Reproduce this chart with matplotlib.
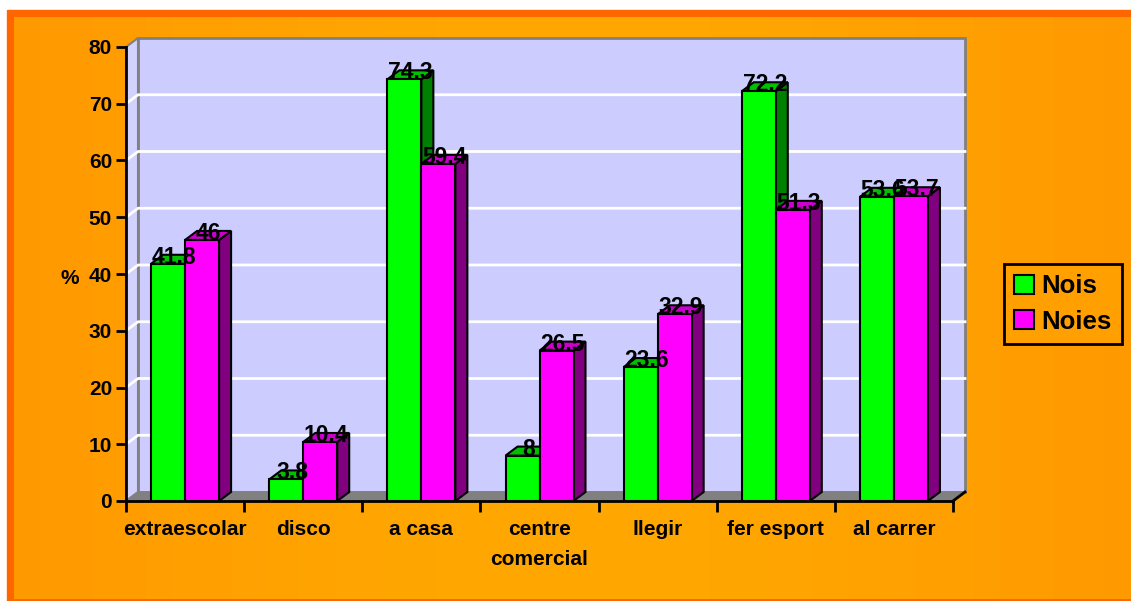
import numpy as np
import matplotlib
matplotlib.use("Agg")
import matplotlib.pyplot as plt
from matplotlib.patches import Polygon, Rectangle, Patch

# dades
categories = ["extraescolar", "disco", "a casa", "centre\ncomercial",
              "llegir", "fer esport", "al carrer"]
nois = [41.8, 3.8, 74.3, 8, 23.6, 72.2, 53.6]
noies = [46, 10.4, 59.4, 26.5, 32.9, 51.3, 53.7]
series_names = ["Nois", "Noies"]
yticks = [0, 10, 20, 30, 40, 50, 60, 70, 80]

# colors: front, top, side
styles = [("#00FF00", "#00C000", "#008000"),
          ("#FF00FF", "#CC00CC", "#800080")]

plt.rcParams["font.family"] = ["Liberation Sans", "DejaVu Sans"]

W, H = 1131, 601
fig = plt.figure(figsize=(W / 100, H / 100), dpi=100, facecolor="white")

# fons taronja amb vora
bg = fig.add_axes([0, 0, 1, 1], zorder=-10)
bg.add_patch(Rectangle((7, 10), W, H, color="#FF6600", zorder=1))
t = np.linspace(0, 1, 256)
g = 0.60 + 0.055 * np.sin(np.pi * t)
grad = np.stack([np.ones_like(t), g, np.zeros_like(t)], axis=-1)[None, :, :]
bg.imshow(grad, extent=[14, W + 2, 599, 17], aspect="auto", interpolation="bilinear",
          zorder=2)
bg.set_xlim(0, W); bg.set_ylim(H, 0); bg.axis("off")

# eixos principals (pla frontal)
x0p, x1p, y0p, y1p = 126, 953, 501, 47
ax = fig.add_axes([x0p / W, 1 - y0p / H, (x1p - x0p) / W, (y0p - y1p) / H])
n = len(categories)
ymax = yticks[-1]
ax.set_xlim(0, n); ax.set_ylim(0, ymax)
ax.patch.set_visible(False)
for s in ["top", "right"]:
    ax.spines[s].set_visible(False)
for s in ["left", "bottom"]:
    ax.spines[s].set_linewidth(2)
    ax.spines[s].set_zorder(4)

# profunditat 3D
dx = 12 * n / (x1p - x0p)
dy = 9 * ymax / (y0p - y1p)

ax.add_patch(Rectangle((dx, dy), n, ymax, fc="#CCCCFF", ec="#808080", lw=2,
                       clip_on=False, zorder=0.5))
ax.add_patch(Polygon([(0, 0), (dx, dy), (dx, ymax + dy), (0, ymax)], closed=True,
                     fc="#D2D2FF", ec="#808080", lw=1.5, clip_on=False, zorder=0.5))
for yv in yticks[1:-1]:
    ax.plot([0, dx, n + dx], [yv, yv + dy, yv + dy], color="white", lw=2,
            clip_on=False, zorder=0.6)
ax.add_patch(Polygon([(0, 0), (n, 0), (n + dx, dy), (dx, dy)], closed=True,
                     fc="#808080", ec="#808080", lw=1, clip_on=False, zorder=0.7))
ax.plot([n, n + dx], [0, dy], color="black", lw=2, clip_on=False, zorder=0.8)

# barres
wbar = 34 * n / (x1p - x0p)
for s, vals in enumerate([nois, noies]):
    front, top, side = styles[s]
    for i, h in enumerate(vals):
        xa = i + 0.5 - wbar + s * wbar
        xb = xa + wbar
        z = 2 + s
        ax.add_patch(Polygon([(xb, 0), (xb + dx, dy), (xb + dx, h + dy), (xb, h)],
                             closed=True, fc=side, ec="black", lw=1.5,
                             joinstyle="miter", clip_on=False, zorder=z))
        ax.add_patch(Polygon([(xa, h), (xb, h), (xb + dx, h + dy), (xa + dx, h + dy)],
                             closed=True, fc=top, ec="black", lw=1.5,
                             joinstyle="miter", clip_on=False, zorder=z + 0.1))
        ax.bar(xa, h, width=wbar, align="edge", color=front, edgecolor="black",
               linewidth=1.5, zorder=z + 0.2, clip_on=False)
        ax.text(xa + wbar / 2 + dx / 2, h, f"{h:g}", ha="center", va="baseline",
                fontsize=16.5, fontweight="bold", color="black", zorder=6)

# ticks
ax.set_xticks(range(n + 1))
ax.set_xticklabels([])
ax.set_xticks([i + 0.5 for i in range(n)], minor=True)
ax.set_xticklabels(categories, minor=True, fontsize=15, fontweight="bold",
                   linespacing=1.75)
ax.tick_params(axis="x", which="major", length=8, width=2, direction="out")
ax.tick_params(axis="x", which="minor", length=0, pad=13.5)
ax.set_yticks(yticks)
ax.set_yticklabels([str(v) for v in yticks], fontsize=15, fontweight="bold")
ax.tick_params(axis="y", length=7, width=2, direction="out", pad=3)

ax.set_ylabel("%", rotation=0, fontsize=15, fontweight="bold",
              ha="center", va="center")
ax.yaxis.set_label_coords((70 - x0p) / (x1p - x0p), 0.49)

# llegenda
handles = [Patch(fc=styles[k][0], ec="black", lw=1.5) for k in range(2)]
leg = fig.legend(handles, series_names, loc="upper left",
                 bbox_to_anchor=(1004 / W, 1 - 264 / H), borderaxespad=0,
                 frameon=True, fancybox=False, edgecolor="black",
                 facecolor="#FFA000", framealpha=1,
                 prop={"size": 18.5, "weight": "bold"},
                 handlelength=0.75, handleheight=0.75, handletextpad=0.3,
                 borderpad=0.4, labelspacing=0.45)
leg.get_frame().set_linewidth(2)

fig.savefig("out.png", dpi=100)
